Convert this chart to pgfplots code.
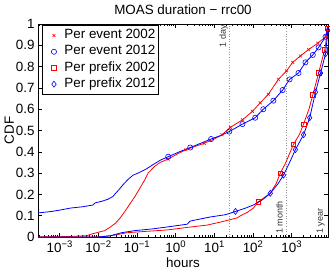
\documentclass[border=0pt]{standalone}
\usepackage{fontspec}
\setmainfont{Liberation Sans}
\usepackage{pgfplots}
\usepackage{pgfplotstable}
\pgfplotsset{compat=1.18}

% durations are stored as log10(hours)
\pgfplotstableread{
lx      y
-3.556  0.000
-2.80   0.002
-2.30   0.006
-2.15   0.015
-2.00   0.022
-1.83   0.030
-1.70   0.045
-1.55   0.065
-1.43   0.090
-1.31   0.120
-1.18   0.155
-1.05   0.190
-0.92   0.230
-0.79   0.270
-0.71   0.300
-0.55   0.330
-0.40   0.350
-0.19   0.366
0.05    0.390
0.27    0.410
0.50    0.425
0.74    0.440
1.00    0.460
1.20    0.480
1.42    0.515
1.73    0.550
1.99    0.590
2.19    0.630
2.40    0.670
2.66    0.740
2.87    0.780
3.03    0.820
3.23    0.850
3.44    0.880
3.68    0.910
3.88    0.940
3.94    0.990
}\evtAline
\pgfplotstableread{
lx      y
-0.19   0.366
0.27    0.410
0.74    0.440
1.20    0.480
1.42    0.515
1.73    0.550
1.99    0.590
2.19    0.630
2.40    0.670
2.66    0.740
2.87    0.780
3.03    0.820
3.23    0.850
3.44    0.880
3.68    0.910
3.88    0.940
}\evtAmark

\pgfplotstableread{
lx      y
-3.556  0.113
-3.20   0.120
-2.97   0.127
-2.71   0.136
-2.40   0.142
-2.14   0.150
-2.08   0.160
-1.90   0.168
-1.75   0.177
-1.62   0.190
-1.55   0.205
-1.45   0.225
-1.36   0.245
-1.23   0.270
-1.10   0.290
-0.97   0.300
-0.75   0.320
-0.58   0.340
-0.40   0.360
-0.19   0.377
0.10    0.400
0.38    0.420
0.65    0.440
0.92    0.460
1.15    0.475
1.39    0.495
1.73    0.530
2.06    0.560
2.27    0.600
2.53    0.640
2.77    0.690
2.95    0.740
3.18    0.770
3.36    0.820
3.55    0.855
3.70    0.890
3.88    0.940
3.94    0.980
}\evtBline
\pgfplotstableread{
lx      y
-0.19   0.377
0.38    0.420
0.92    0.460
1.39    0.495
1.73    0.530
2.06    0.560
2.27    0.600
2.53    0.640
2.77    0.690
2.95    0.740
3.18    0.770
3.36    0.820
3.55    0.855
3.70    0.890
3.88    0.940
}\evtBmark

\pgfplotstableread{
lx      y
-3.556  0.000
-2.00   0.000
-1.60   0.008
-1.26   0.020
-0.80   0.026
-0.22   0.033
0.30    0.045
0.82    0.056
1.16    0.070
1.45    0.083
1.60    0.090
1.68    0.100
1.85    0.115
2.01    0.135
2.14    0.165
2.45    0.205
2.60    0.250
2.71    0.300
2.84    0.345
3.05    0.435
3.20    0.480
3.31    0.530
3.45    0.600
3.55    0.667
3.70    0.770
3.80    0.840
3.86    0.880
3.94    0.980
}\pfxAline
\pgfplotstableread{
lx      y
2.14    0.165
2.71    0.300
3.05    0.435
3.31    0.530
3.55    0.667
3.70    0.770
3.86    0.880
3.94    0.980
}\pfxAmark

\pgfplotstableread{
lx      y
-3.556  0.000
-2.00   0.000
-1.70   0.005
-1.40   0.020
-1.05   0.030
-0.60   0.038
-0.22   0.047
0.30    0.060
0.38    0.075
0.90    0.094
1.30    0.105
1.55    0.120
1.80    0.135
2.01    0.150
2.25    0.175
2.45    0.205
2.65    0.250
2.79    0.290
2.95    0.350
3.10    0.410
3.31    0.480
3.47    0.560
3.62    0.680
3.75    0.770
3.88    0.860
3.94    0.970
}\pfxBline
\pgfplotstableread{
lx      y
1.55    0.120
2.45    0.205
2.79    0.290
3.10    0.410
3.31    0.480
3.47    0.560
3.62    0.680
3.75    0.770
3.88    0.860
3.94    0.970
}\pfxBmark

\newcommand\ep[1]{10\raisebox{5.5pt}{\fontsize{9.5}{9.5}\selectfont #1}}
\newcommand\lbl{\fontsize{13.4}{13.4}\selectfont}

\begin{document}
\begin{tikzpicture}
\begin{axis}[
  at={(0,0)}, anchor=south west,
  scale only axis, width=290pt, height=213pt,
  xmode=log, xmin=2.7778e-4, xmax=8760,
  ymin=0, ymax=1,
  xtick={1e-3,1e-2,1e-1,1,10,100,1000},
  xticklabels={\ep{−3},\ep{−2},\ep{−1},\ep{0},\ep{1},\ep{2},\ep{3}},
  minor xtick={3e-4,4e-4,5e-4,6e-4,7e-4,8e-4,9e-4,
    2e-3,3e-3,4e-3,5e-3,6e-3,7e-3,8e-3,9e-3,
    2e-2,3e-2,4e-2,5e-2,6e-2,7e-2,8e-2,9e-2,
    0.2,0.3,0.4,0.5,0.6,0.7,0.8,0.9,
    2,3,4,5,6,7,8,9,
    20,30,40,50,60,70,80,90,
    200,300,400,500,600,700,800,900,
    2000,3000,4000,5000,6000,7000,8000},
  ytick={0,0.1,0.2,0.3,0.4,0.5,0.6,0.7,0.8,0.9,1},
  yticklabels={0,0.1,0.2,0.3,0.4,0.5,0.6,0.7,0.8,0.9,1},
  tick align=inside,
  major tick length=4pt, minor tick length=2pt,
  every tick/.style={black, line width=0.6pt},
  axis line style={line width=0.8pt},
  tick label style={font=\lbl},
  /pgf/number format/assume math mode=true,
  title={MOAS duration − rrc00},
  every axis title shift=0pt,
  title style={font=\lbl, at={(axis description cs:0.5,1.0446)}, anchor=base, yshift=0pt},
  xlabel={hours},
  xlabel style={font=\lbl, at={(axis description cs:0.5,-0.1455)}, anchor=base},
  ylabel={CDF},
  ylabel style={font=\lbl, at={(axis description cs:-0.0828,0.5)}, anchor=base},
  legend style={at={(axis description cs:0.014,0.995)}, anchor=north west,
    draw=black, line width=0.8pt, fill=white, inner sep=2pt,
    font=\lbl,
    nodes={inner sep=1.5pt, text height=9.7pt, text depth=3.5pt},
    row sep=0pt, column sep=0pt},
  legend image code/.code={%
    \path[draw=none, fill=none] (0pt,-2pt) rectangle (18.5pt,2pt);
    \draw[#1] plot coordinates {(9.5pt,0pt)};},
  legend cell align=left,
  clip mode=individual,
]
% reference durations: 1 day, 1 month, 1 year
\draw[dotted, black!40, line width=0.6pt] (axis cs:24,0) -- (axis cs:24,1);
\draw[dotted, black!40, line width=0.6pt] (axis cs:720,0) -- (axis cs:720,1);
\node[rotate=90, anchor=south east, inner sep=1pt, font=\fontsize{9}{9}\selectfont, text=black!80] at (axis cs:24,1) {1 day};
\node[rotate=90, anchor=south west, inner sep=3pt, font=\fontsize{9}{9}\selectfont, text=black!80] at (axis cs:720,0) {1 month};
\node[rotate=90, anchor=south west, inner sep=3pt, font=\fontsize{9}{9}\selectfont, text=black!80] at (axis cs:8760,0) {1 year};

% curves
\addplot[red, line width=0.8pt, forget plot] table[x expr=10^\thisrow{lx}, y=y] {\evtAline};
\addplot[blue, line width=0.8pt, forget plot] table[x expr=10^\thisrow{lx}, y=y] {\evtBline};
\addplot[red, line width=0.8pt, forget plot] table[x expr=10^\thisrow{lx}, y=y] {\pfxAline};
\addplot[blue, line width=0.8pt, forget plot] table[x expr=10^\thisrow{lx}, y=y] {\pfxBline};

% markers
\addplot[red, only marks, mark=x, mark size=2pt, mark options={line width=0.6pt}] table[x expr=10^\thisrow{lx}, y=y] {\evtAmark};
\addplot[blue, only marks, mark=o, mark size=2.6pt, mark options={line width=0.6pt}] table[x expr=10^\thisrow{lx}, y=y] {\evtBmark};
\addplot[red, only marks, mark=square, mark size=2.3pt, mark options={line width=0.6pt}] table[x expr=10^\thisrow{lx}, y=y] {\pfxAmark};
\addplot[blue, only marks, mark=diamond, mark size=3pt, mark options={line width=0.6pt}] table[x expr=10^\thisrow{lx}, y=y] {\pfxBmark};

\legend{Per event 2002, Per event 2012, Per prefix 2002, Per prefix 2012}
\end{axis}
\pgfresetboundingbox
\path (-38pt,-34pt) rectangle (292pt,237pt);
\end{tikzpicture}
\end{document}
